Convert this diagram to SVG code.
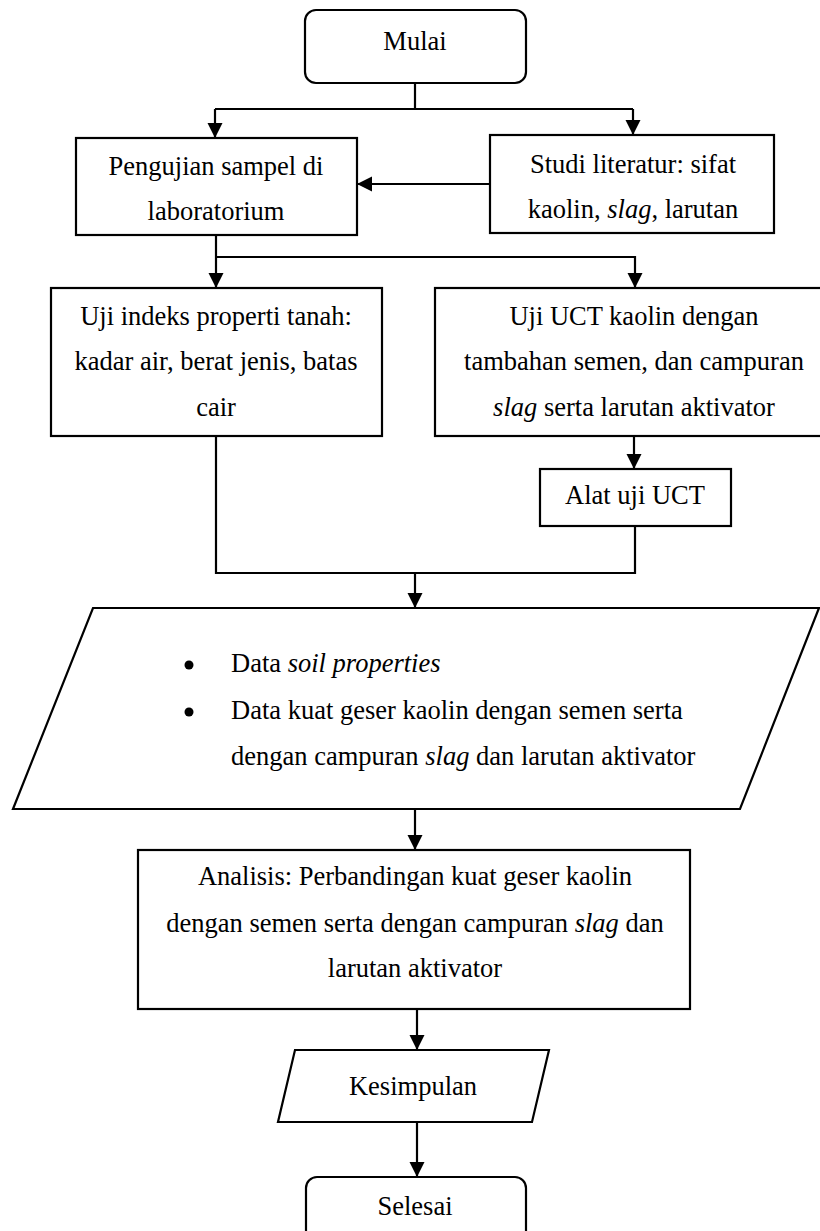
<svg xmlns="http://www.w3.org/2000/svg" width="820" height="1231" viewBox="0 0 820 1231">
<style>
.n{fill:#fff;stroke:#000;stroke-width:2.2}
.t{font-family:"Liberation Serif","Times New Roman",serif;font-size:26.5px;fill:#000}
.c{text-anchor:middle}
.e{fill:none;stroke:#000;stroke-width:2.2}
</style>
<defs>
<marker id="ah" markerUnits="userSpaceOnUse" markerWidth="16" markerHeight="16" viewBox="0 0 16 16" refX="15" refY="8" orient="auto">
<path d="M0,0.5 L15,8 L0,15.5 Z" fill="#000"/>
</marker>
</defs>
<rect width="820" height="1231" fill="#fff"/>
<g id="connectors">
<path class="e" d="M415,83 V109 M215,109 H633"/>
<path class="e" d="M215,109 V138" marker-end="url(#ah)"/>
<path class="e" d="M633,109 V135" marker-end="url(#ah)"/>
<path class="e" d="M490,184 H357" marker-end="url(#ah)"/>
<path class="e" d="M216,235 V288" marker-end="url(#ah)"/>
<path class="e" d="M216,257 H635 V288" marker-end="url(#ah)"/>
<path class="e" d="M634,436 V469" marker-end="url(#ah)"/>
<path class="e" d="M635,526 V573 H216 V436"/>
<path class="e" d="M415,573 V608" marker-end="url(#ah)"/>
<path class="e" d="M415,810 V850" marker-end="url(#ah)"/>
<path class="e" d="M417,1009 V1050" marker-end="url(#ah)"/>
<path class="e" d="M417,1122 V1177" marker-end="url(#ah)"/>
</g>
<g id="mulai">
<rect class="n" x="305" y="10" width="221" height="73" rx="11"/>
<text class="t c" x="415" y="50">Mulai</text>
</g>
<g id="pengujian">
<rect class="n" x="76" y="138" width="281" height="97"/>
<text class="t c" x="216" y="175">Pengujian sampel di</text>
<text class="t c" x="216" y="220">laboratorium</text>
</g>
<g id="studi">
<rect class="n" x="490" y="135" width="284" height="98"/>
<text class="t c" x="633" y="173">Studi literatur: sifat</text>
<text class="t c" x="633" y="218">kaolin, <tspan font-style="italic">slag</tspan>, larutan</text>
</g>
<g id="uji-indeks">
<rect class="n" x="51" y="288" width="331" height="148"/>
<text class="t c" x="216" y="325">Uji indeks properti tanah:</text>
<text class="t c" x="216" y="370">kadar air, berat jenis, batas</text>
<text class="t c" x="216" y="416">cair</text>
</g>
<g id="uji-uct">
<rect class="n" x="435" y="288" width="400" height="148"/>
<text class="t c" x="634" y="325">Uji UCT kaolin dengan</text>
<text class="t c" x="634" y="370">tambahan semen, dan campuran</text>
<text class="t c" x="634" y="416"><tspan font-style="italic">slag</tspan> serta larutan aktivator</text>
</g>
<g id="alat">
<rect class="n" x="540" y="469" width="191" height="57"/>
<text class="t c" x="635" y="504">Alat uji UCT</text>
</g>
<g id="data">
<polygon class="n" points="93,608 819,608 740,809 13,809"/>
<circle cx="189" cy="665" r="4.5" fill="#000"/>
<circle cx="189" cy="712" r="4.5" fill="#000"/>
<text class="t" x="231" y="672">Data <tspan font-style="italic">soil properties</tspan></text>
<text class="t" x="231" y="719">Data kuat geser kaolin dengan semen serta</text>
<text class="t" x="231" y="765">dengan campuran <tspan font-style="italic">slag</tspan> dan larutan aktivator</text>
</g>
<g id="analisis">
<rect class="n" x="138" y="850" width="552" height="159"/>
<text class="t c" x="415" y="885">Analisis: Perbandingan kuat geser kaolin</text>
<text class="t c" x="415" y="932">dengan semen serta dengan campuran <tspan font-style="italic">slag</tspan> dan</text>
<text class="t c" x="415" y="977">larutan aktivator</text>
</g>
<g id="kesimpulan">
<polygon class="n" points="295,1050 549,1050 532,1122 278,1122"/>
<text class="t c" x="413" y="1095">Kesimpulan</text>
</g>
<g id="selesai">
<rect class="n" x="306" y="1177" width="220" height="70" rx="11"/>
<text class="t c" x="415" y="1215">Selesai</text>
</g>
</svg>
